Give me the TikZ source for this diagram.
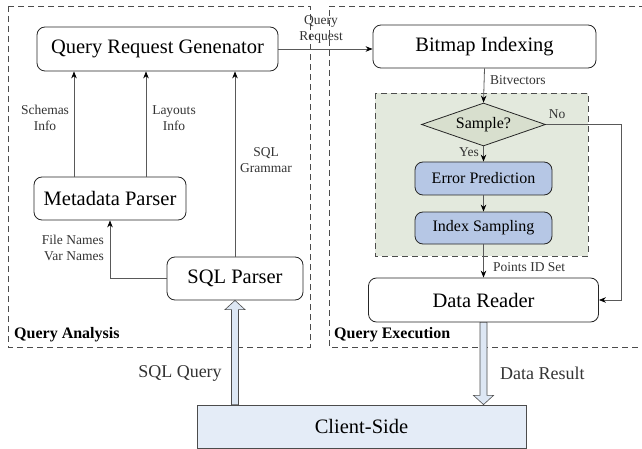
\documentclass[tikz,border=0pt]{standalone}
\usepackage{fontspec}
\setmainfont{Liberation Serif}
\usetikzlibrary{calc,shapes.geometric,arrows.meta}

\definecolor{stagegreen}{HTML}{E3E9DD}
\definecolor{diamondgreen}{HTML}{D8DFCE}
\definecolor{stepblue}{HTML}{B6C7E5}
\definecolor{clientblue}{HTML}{E4ECF7}
\definecolor{fatblue}{HTML}{DDE7F4}

\begin{document}
\begin{tikzpicture}[
  x=1pt,y=-1pt,
  >={Stealth[length=7pt,width=5.5pt,black]},
  module/.style={rectangle,rounded corners=8pt,draw=black!85,line width=0.8pt,fill=white,inner sep=0pt,font=\fontsize{20.5}{24}\selectfont},
  smallmod/.style={rectangle,rounded corners=8pt,draw=black!85,line width=0.8pt,fill=stepblue,inner sep=0pt,minimum width=137pt,font=\fontsize{16}{19}\selectfont},
  lbl/.style={inner sep=0pt,text=black!80,align=center,font=\fontsize{13.5}{16}\selectfont},
  stage/.style={inner sep=0pt,anchor=west,font=\fontsize{16}{19}\selectfont\bfseries},
  flow/.style={->,draw=black!65,line width=0.8pt},
  fatarrow/.style={draw=black!70,line width=0.6pt,fill=fatblue},
  frame/.style={draw=black!70,dash pattern=on 6pt off 4pt,line width=0.7pt}
]
\useasboundingbox (0,0) rectangle (642,449);

% dashed stages
\draw[frame] (8,6) rectangle (310,347);
\draw[frame] (645,6) -- (329,6) -- (329,347) -- (645,347);
\draw[frame,fill=stagegreen] (375,93) rectangle (588,256);

% query analysis
\node[module,minimum width=241pt,minimum height=44pt] (qrg) at (157.5,49) {Query Request Genenator};
\node[module,minimum width=152pt,minimum height=43pt] (meta) at (110,198.5) {Metadata Parser};
\node[module,minimum width=136pt,minimum height=43pt] (sqlp) at (235,278.5) {SQL Parser};

\draw[flow] ([xshift=-36pt]meta.north) -- ([xshift=-36pt]meta.north |- qrg.south);
\draw[flow] ([xshift=36pt]meta.north) -- ([xshift=36pt]meta.north |- qrg.south);
\draw[flow] (sqlp.north) -- (sqlp.north |- qrg.south);
\draw[flow] (sqlp.west) -| (meta.south);

\node[lbl] (schemas) at (45,118) {Schemas\\Info};
\node[lbl] (layouts) at (174,118) {Layouts\\Info};
\node[lbl] (grammar) at (266,160) {SQL\\Grammar};
\node[lbl,anchor=east,align=right] (names) at (104,248) {File Names\\Var Names};
\node[stage] (analysis) at (14,335) {Query Analysis};

% query execution
\node[module,minimum width=223pt,minimum height=43pt] (bitmap) at (484.5,46.5) {Bitmap Indexing};
\node[diamond,aspect=2.9,draw=black!85,line width=0.8pt,fill=diamondgreen,inner sep=0pt,
  minimum width=124pt,minimum height=43pt,font=\fontsize{16}{19}\selectfont] (sample) at (483.5,124.5) {Sample?};
\node[smallmod,minimum height=33pt] (errp) at (483.5,178.5) {Error Prediction};
\node[smallmod,minimum height=32pt] (idxs) at (483.5,228) {Index Sampling};
\node[module,minimum width=230pt,minimum height=44pt] (reader) at (483.5,300) {Data Reader};

\draw[flow] (qrg.east) -- (qrg.east -| bitmap.west);
\draw[flow] (bitmap.south) -- (sample.north);
\draw[flow] (sample.south) -- (errp.north);
\draw[flow] (errp.south) -- (idxs.north);
\draw[flow] (idxs.south) -- (reader.north);
\draw[flow] (sample.east) -- ++(75,0) |- (reader.east);

\node[lbl] (request) at (321,29) {Query\\Request};
\node[lbl,anchor=west] (bitvec) at (490,80) {Bitvectors};
\node[lbl] (no) at (557,114) {No};
\node[lbl] (yes) at (469,152) {Yes};
\node[lbl,anchor=west] (points) at (493,267) {Points ID Set};
\node[stage] (execution) at (334,335) {Query Execution};

% client side
\node[rectangle,draw=black!70,line width=0.8pt,fill=clientblue,minimum width=329pt,minimum height=43pt,
  inner sep=0pt,font=\fontsize{20.5}{24}\selectfont] (client) at (361.5,426.5) {Client-Side};

\draw[fatarrow] (sqlp.south |- client.north) ++(-3.5,0) -- ++(0,-95) -- ++(-6.5,0) -- (sqlp.south)
  -- ($(sqlp.south |- client.north)+(10,-95)$) -- ++(-6.5,0) -- ++(0,95) -- cycle;
\draw[fatarrow] (reader.south) ++(-3.5,0) -- ++(0,73) -- ++(-6.5,0) -- (reader.south |- client.north)
  -- ($(reader.south)+(10,73)$) -- ++(-6.5,0) -- ++(0,-73) -- cycle;

\node[lbl,font=\fontsize{18}{21}\selectfont] (sqlq) at (180,373) {SQL Query};
\node[lbl,anchor=west,font=\fontsize{18}{21}\selectfont] (result) at (500,373) {Data Result};

\end{tikzpicture}
\end{document}
